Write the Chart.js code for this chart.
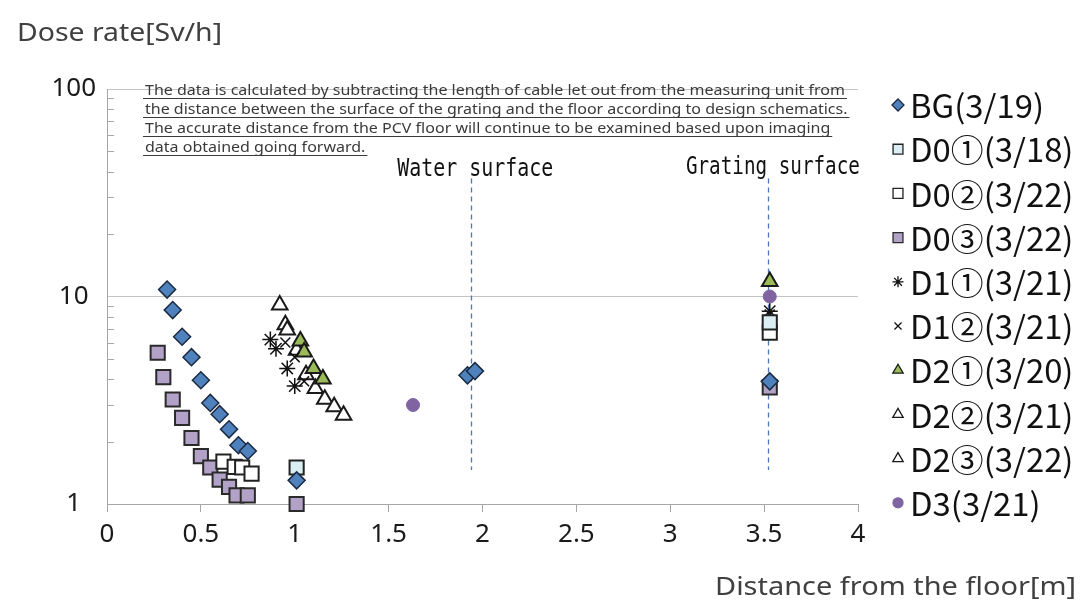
<!DOCTYPE html>
<html>
<head>
<meta charset="utf-8">
<script src="https://cdn.jsdelivr.net/npm/chart.js@4.4.0/dist/chart.umd.min.js"></script>
<style>
  html, body { margin: 0; padding: 0; background: #fff; }
  canvas { display: block; }
</style>
</head>
<body>
<canvas id="doseChart" width="1085" height="614"></canvas>
<script>
// Distance from the floor [m] / dose rate [Sv/h]
const bgX  = [0.32, 0.35, 0.40, 0.45, 0.50, 0.55, 0.60, 0.65, 0.70, 0.75, 1.01, 1.92, 1.96, 3.53];
const bgY  = [10.8, 8.6, 6.4, 5.1, 3.95, 3.07, 2.71, 2.29, 1.92, 1.80, 1.30, 4.17, 4.37, 3.9];
const d01X = [1.01, 3.53];
const d01Y = [1.50, 7.5];
const d02X = [0.62, 0.68, 0.72, 0.77, 3.53];
const d02Y = [1.60, 1.51, 1.50, 1.40, 6.7];
const d03X = [0.27, 0.30, 0.35, 0.40, 0.45, 0.50, 0.55, 0.60, 0.65, 0.69, 0.75, 1.01, 3.53];
const d03Y = [5.36, 4.09, 3.19, 2.60, 2.08, 1.70, 1.50, 1.31, 1.21, 1.10, 1.10, 1.0, 3.65];
const d11X = [0.87, 0.90, 0.96, 1.00, 3.53];
const d11Y = [6.2, 5.6, 4.5, 3.7, 8.5];
const d12X = [0.95, 1.00, 1.05, 3.53];
const d12Y = [6.0, 5.1, 3.9, 8.2];
const d21X = [1.03, 1.05, 1.10, 1.15, 3.53];
const d21Y = [6.1, 5.4, 4.5, 4.0, 11.8];
const d22X = [0.92, 0.96, 1.01, 1.06];
const d22Y = [9.1, 6.9, 5.5, 4.2];
const d23X = [0.95, 1.11, 1.16, 1.21, 1.26];
const d23Y = [7.3, 3.6, 3.2, 2.94, 2.68];
const d3X  = [1.63, 3.53];
const d3Y  = [3.0, 10.0];

const seriesLabels = ['BG(3/19)', 'D0①(3/18)', 'D0②(3/22)', 'D0③(3/22)', 'D1①(3/21)',
                      'D1②(3/21)', 'D2①(3/20)', 'D2②(3/21)', 'D2③(3/22)', 'D3(3/21)'];
const seriesX = [bgX, d01X, d02X, d03X, d11X, d12X, d21X, d22X, d23X, d3X];
const seriesY = [bgY, d01Y, d02Y, d03Y, d11Y, d12Y, d21Y, d22Y, d23Y, d3Y];

const xTicks = [0, 0.5, 1, 1.5, 2, 2.5, 3, 3.5, 4];
const yTicks = [1, 10, 100];
const yMinorTicks = [2, 3, 4, 5, 6, 7, 8, 9, 20, 30, 40, 50, 60, 70, 80, 90];

const waterSurface = 1.94;
const gratingSurface = 3.52;

const noteLines = [
    'The data is calculated by subtracting the length of cable let out from the measuring unit from',
    'the distance between the surface of the grating and the floor according to design schematics.',
    'The accurate distance from the PCV floor will continue to be examined based upon imaging',
    'data obtained going forward.'
];

// marker look per series
const markers = [
    { style: 'rectRot',  r: 8.5, fill: '#4f81bd', line: '#1b2a40', w: 1.5, lr: 6 },
    { style: 'rect',     r: 10,  fill: '#dbeef4', line: '#222222', w: 2,   lr: 7 },
    { style: 'rect',     r: 10,  fill: '#ffffff', line: '#222222', w: 2,   lr: 7 },
    { style: 'rect',     r: 10,  fill: '#b3a2c7', line: '#2a2a2a', w: 2,   lr: 7 },
    { style: 'star',     r: 8,   fill: '#111111', line: '#111111', w: 1.5, lr: 5.5 },
    { style: 'crossRot', r: 7,   fill: '#111111', line: '#111111', w: 1.5, lr: 5 },
    { style: 'triangle', r: 9,   fill: '#9bbb59', line: '#1a1a1a', w: 2,   lr: 6 },
    { style: 'triangle', r: 9,   fill: '#ffffff', line: '#1a1a1a', w: 2,   lr: 6 },
    { style: 'triangle', r: 9,   fill: '#ffffff', line: '#1a1a1a', w: 2,   lr: 6 },
    { style: 'circle',   r: 6.5, fill: '#8064a2', line: '#8064a2', w: 1,   lr: 5 }
];

const datasets = seriesLabels.map((label, i) => ({
    label: label,
    data: seriesX[i].map((x, j) => ({ x: x, y: seriesY[i][j] })),
    pointStyle: markers[i].style,
    pointRadius: markers[i].r,
    backgroundColor: markers[i].fill,
    borderColor: markers[i].line,
    pointBorderWidth: markers[i].w,
    showLine: false,
    clip: false
}));

// draws one line of text squeezed/stretched horizontally by k
function squeezeText(ctx, str, x, y, k) {
    ctx.save();
    ctx.translate(x, y);
    ctx.scale(k, 1);
    ctx.fillText(str, 0, 0);
    ctx.restore();
}

const decor = {
    id: 'decor',
    beforeDatasetsDraw(chart) {
        const { ctx, chartArea: a, scales: { x, y } } = chart;
        ctx.save();
        // minor ticks on the inside of the value axis
        ctx.strokeStyle = '#a6a6a6';
        ctx.lineWidth = 1;
        yMinorTicks.forEach(v => {
            const py = Math.round(y.getPixelForValue(v)) + 0.5;
            ctx.beginPath();
            ctx.moveTo(a.left, py);
            ctx.lineTo(a.left + 7, py);
            ctx.stroke();
        });
        // water / grating surface dashed lines
        ctx.strokeStyle = '#4a78bd';
        ctx.lineWidth = 1.3;
        ctx.setLineDash([5, 4]);
        [waterSurface, gratingSurface].forEach(d => {
            const px = Math.round(x.getPixelForValue(d)) + 0.5;
            ctx.beginPath();
            ctx.moveTo(px, y.getPixelForValue(37));
            ctx.lineTo(px, y.getPixelForValue(1.46));
            ctx.stroke();
        });
        ctx.restore();
    },
    afterDraw(chart) {
        const { ctx, scales: { x } } = chart;
        ctx.save();
        ctx.fillStyle = '#404040';
        ctx.textBaseline = 'alphabetic';
        ctx.textAlign = 'left';

        // axis titles
        ctx.font = '26px "Noto Sans"';
        const yTitle = 'Dose rate[Sv/h]';
        const xTitle = 'Distance from the floor[m]';
        squeezeText(ctx, yTitle, 17, 41, 205 / ctx.measureText(yTitle).width);
        squeezeText(ctx, xTitle, 715, 595, 361 / ctx.measureText(xTitle).width);

        // note box text
        ctx.font = '15px "Noto Sans"';
        ctx.fillStyle = '#3a3a3a';
        ctx.strokeStyle = '#3a3a3a';
        ctx.lineWidth = 1.2;
        const k = 700 / ctx.measureText(noteLines[0]).width;
        const baseY = [95, 114, 133, 152];
        noteLines.forEach((line, i) => {
            squeezeText(ctx, line, 145, baseY[i], k);
            const w = ctx.measureText(line).width * k;
            ctx.beginPath();
            ctx.moveTo(143, baseY[i] + 3.5);
            ctx.lineTo(145 + w + 2, baseY[i] + 3.5);
            ctx.stroke();
        });

        // surface labels
        ctx.fillStyle = '#111';
        ctx.font = '24px "DejaVu Sans Mono"';
        const wsText = 'Water surface';
        const gsText = 'Grating surface';
        const kw = 156 / ctx.measureText(wsText).width;
        const kg = 174 / ctx.measureText(gsText).width;
        squeezeText(ctx, wsText, x.getPixelForValue(waterSurface) + 4 - 78, 176, kw);
        squeezeText(ctx, gsText, x.getPixelForValue(gratingSurface) + 5 - 87, 174, kg);

        // legend
        ctx.font = '32px "Noto Sans CJK JP"';
        ctx.textBaseline = 'middle';
        const kl = 134 / ctx.measureText(seriesLabels[0]).width;
        seriesLabels.forEach((label, i) => {
            const ly = 105 + i * 44.2;
            const m = markers[i];
            ctx.fillStyle = m.fill;
            ctx.strokeStyle = m.line;
            ctx.lineWidth = 1.3;
            Chart.helpers.drawPoint(ctx, { pointStyle: m.style, radius: m.lr, borderWidth: 1.3, rotation: 0 }, 898, ly);
            ctx.fillStyle = '#111';
            squeezeText(ctx, label, 910, ly + 1, kl);
        });
        ctx.restore();
    }
};

const ctx = document.getElementById('doseChart').getContext('2d');
new Chart(ctx, {
    type: 'scatter',
    data: { datasets: datasets },
    options: {
        responsive: false,
        animation: false,
        layout: { padding: { left: 0, right: 227, top: 89, bottom: 0 } },
        plugins: {
            legend: { display: false },
            tooltip: { enabled: false }
        },
        scales: {
            x: {
                type: 'linear',
                min: 0,
                max: 4,
                afterBuildTicks: s => { s.ticks = xTicks.map(v => ({ value: v })); },
                afterFit: s => { s.height = 110; },
                grid: { drawOnChartArea: false, drawTicks: true, tickLength: 8, color: '#a6a6a6' },
                border: { color: '#a6a6a6' },
                ticks: {
                    font: { family: 'Noto Sans', size: 26 },
                    color: '#1a1a1a',
                    padding: 7,
                    maxRotation: 0,
                    callback: v => String(v)
                }
            },
            y: {
                type: 'logarithmic',
                min: 1,
                max: 100,
                afterBuildTicks: s => { s.ticks = yTicks.map(v => ({ value: v })); },
                afterFit: s => { s.width = 107; },
                grid: { color: '#c4c4c4', drawTicks: false },
                border: { color: '#a6a6a6' },
                ticks: {
                    font: { family: 'Noto Sans', size: 26 },
                    color: '#1a1a1a',
                    crossAlign: 'center',
                    padding: 11,
                    callback: v => String(v)
                }
            }
        }
    },
    plugins: [decor]
});
</script>
</body>
</html>
